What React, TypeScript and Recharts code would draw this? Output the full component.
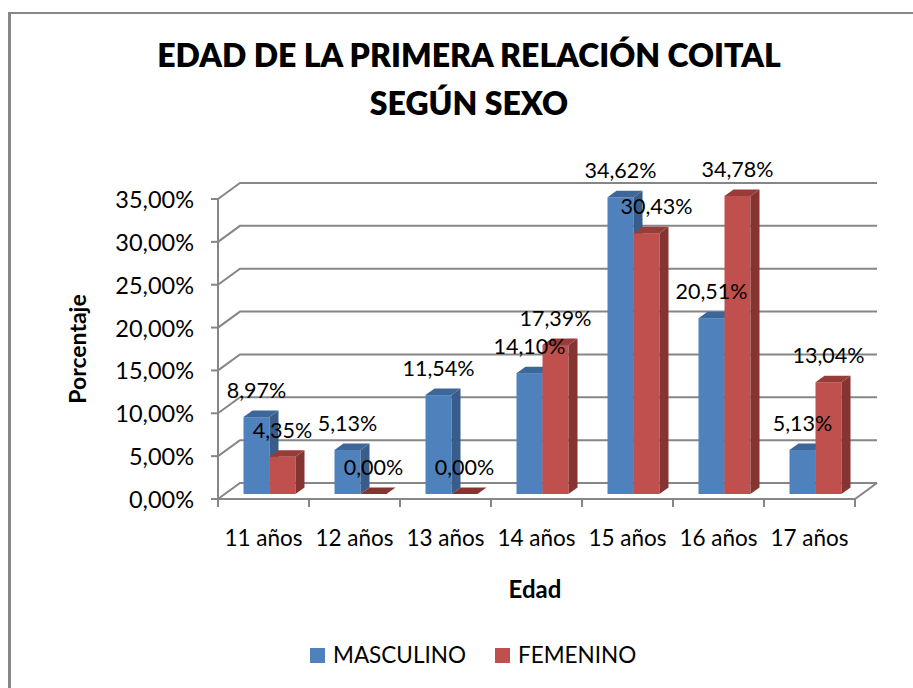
import React from 'react';
import { BarChart, Bar, XAxis, YAxis, CartesianGrid, LabelList, Legend } from 'recharts';

const categories = ['11 años', '12 años', '13 años', '14 años', '15 años', '16 años', '17 años'];
const masculino = [8.97, 5.13, 11.54, 14.1, 34.62, 20.51, 5.13];
const femenino = [4.35, 0, 0, 17.39, 30.43, 34.78, 13.04];
const yTicks = [0, 5, 10, 15, 20, 25, 30, 35];
const seriesNames = ['MASCULINO', 'FEMENINO'];
const titleLines = ['EDAD DE LA PRIMERA RELACIÓN COITAL', 'SEGÚN SEXO'];
const yTitle = 'Porcentaje';
const xTitle = 'Edad';

const data = categories.map((c, i) => ({ edad: c, masculino: masculino[i], femenino: femenino[i] }));

const FONT = 'Lato, "Open Sans", sans-serif';
const GRID = '#868686';
const FRONT_DX = -5.5;
const FRONT_DY = 5;
const BACK_DX = 16.5;
const BACK_DY = -11;
const BAR_DX = 9;
const BAR_DY = 6.5;

const BLUE = { front: '#4F81BD', top: '#3D6799', side: '#385D8A' };
const RED = { front: '#C0504D', top: '#983C3A', side: '#853432' };

const fmt = (v: number) => v.toFixed(2).replace('.', ',') + '%';

const make3DBar = (c: { front: string; top: string; side: string }) => (p: any) => {
  const { x, y, width: w } = p;
  if (x == null || y == null || w == null) return <g />;
  const h = Math.max(0, p.height || 0);
  return (
    <g>
      {h > 0 && <rect x={x} y={y} width={w} height={h} fill={c.front} />}
      {h > 0 && (
        <polygon
          points={`${x + w},${y} ${x + w + BAR_DX},${y - BAR_DY} ${x + w + BAR_DX},${y + h - BAR_DY} ${x + w},${y + h}`}
          fill={c.side}
        />
      )}
      <polygon
        points={`${x},${y} ${x + BAR_DX},${y - BAR_DY} ${x + w + BAR_DX},${y - BAR_DY} ${x + w},${y}`}
        fill={h > 0 ? c.top : c.side}
      />
    </g>
  );
};

const renderGridLine = (p: any) => {
  const { x1, x2, y1 } = p;
  const fy = y1 + FRONT_DY;
  const by = y1 + BACK_DY;
  const fx = x1 + FRONT_DX;
  const bx = x1 + BACK_DX;
  const bxr = x2 + BACK_DX;
  const floorY = p.y != null && p.height != null ? p.y + p.height : null;
  const isFloor = floorY != null ? Math.abs(y1 - floorY) < 0.5 : p.index === 0;
  return (
    <g key={p.key}>
      <polyline points={`${fx},${fy} ${bx},${by} ${bxr},${by}`} fill="none" stroke={GRID} strokeWidth={2} />
      {isFloor && (
        <>
          <polyline
            points={`${fx},${fy} ${x2 + FRONT_DX},${fy} ${bxr},${by}`}
            fill="none"
            stroke={GRID}
            strokeWidth={2}
          />
          <line x1={fx} y1={p.y + FRONT_DY} x2={fx} y2={fy} stroke={GRID} strokeWidth={2} />
        </>
      )}
    </g>
  );
};

const YTick = (p: any) => {
  const { x, y, payload } = p;
  const fx = x + FRONT_DX;
  const fy = y + FRONT_DY;
  return (
    <g>
      <line x1={fx - 7} y1={fy} x2={fx} y2={fy} stroke={GRID} strokeWidth={2} />
      <text x={fx - 24} y={fy + 9} textAnchor="end" fontFamily={FONT} fontSize={23.5} fill="#000">
        {fmt(payload.value)}
      </text>
    </g>
  );
};

const XTick = (p: any) => {
  const { x, y, payload, index } = p;
  const half = payload.offset != null ? payload.offset : 45.5;
  const cx = x + FRONT_DX;
  const fy = y + FRONT_DY;
  const lx = cx - half;
  const rx = cx + half;
  const last = (index ?? payload.index) === categories.length - 1;
  return (
    <g>
      <line x1={lx} y1={fy} x2={lx} y2={fy + 8} stroke={GRID} strokeWidth={2} />
      {last && <line x1={rx} y1={fy} x2={rx} y2={fy + 8} stroke={GRID} strokeWidth={2} />}
      <text x={cx} y={y + 52} textAnchor="middle" fontFamily={FONT} fontSize={22.5} fill="#000">
        {payload.value}
      </text>
    </g>
  );
};

const makeLabel = (series: 'm' | 'f') => (p: any) => {
  const { x, y, width, value, index } = p;
  if (x == null || y == null) return null;
  const nudge = series === 'f' && index === 4 ? 10 : 0;
  return (
    <text
      x={x + width / 2 + nudge}
      y={y - 19}
      textAnchor="middle"
      fontFamily={FONT}
      fontSize={21.5}
      fill="#000"
    >
      {fmt(Number(value))}
    </text>
  );
};

const LegendContent = (props: any) => {
  const raw = props.payload || [];
  const payload = seriesNames
    .map((n) => raw.find((e: any) => e.value === n))
    .filter(Boolean);
  const lefts = [310, 495];
  return (
    <div style={{ position: 'relative', width: 913, height: 30 }}>
      {payload.map((e: any, i: number) => (
        <div
          key={i}
          style={{
            position: 'absolute',
            left: lefts[i] ?? 310 + i * 185,
            top: 0,
            display: 'flex',
            alignItems: 'center',
            fontFamily: FONT,
            fontSize: 22.5,
            color: '#000',
            lineHeight: '30px',
            whiteSpace: 'nowrap',
          }}
        >
          <span style={{ display: 'inline-block', width: 15, height: 15, background: e.color, marginRight: 8 }} />
          <span>{e.value}</span>
        </div>
      ))}
    </div>
  );
};

export default function App() {
  return (
    <div
      style={{
        position: 'absolute',
        left: 0,
        top: 0,
        width: 913,
        height: 688,
        overflow: 'hidden',
        background: '#fff',
      }}
    >
      <div
        style={{
          position: 'absolute',
          left: 8,
          top: 12,
          width: 1000,
          height: 1000,
          borderLeft: '3px solid #878787',
          borderTop: '2px solid #878787',
        }}
      />
      <div
        style={{
          position: 'absolute',
          left: 0,
          top: 0,
          width: 913,
          textAlign: 'center',
          fontFamily: FONT,
          fontWeight: 800,
          fontSize: 32,
          color: '#000',
        }}
      >
        <div style={{ position: 'absolute', left: 0, width: 938, top: 35, lineHeight: '40px' }}>{titleLines[0]}</div>
        <div style={{ position: 'absolute', left: 0, width: 938, top: 83, lineHeight: '40px' }}>{titleLines[1]}</div>
      </div>
      <div style={{ position: 'absolute', left: 0, top: 0 }}>
        <BarChart
          width={913}
          height={688}
          data={data}
          margin={{ top: 194, right: 52.5, bottom: 134, left: 123.5 }}
          barCategoryGap={20}
          barGap={0}
        >
          <CartesianGrid vertical={false} horizontal={renderGridLine} />
          <XAxis
            dataKey="edad"
            height={60}
            tickSize={0}
            tickMargin={0}
            axisLine={false}
            tickLine={false}
            interval={0}
            tick={<XTick />}
            label={{
              content: () => (
                <text x={535} y={598} textAnchor="middle" fontFamily={FONT} fontWeight={700} fontSize={24} fill="#000">
                  {xTitle}
                </text>
              ),
            }}
          />
          <YAxis
            width={100}
            domain={[0, 35]}
            ticks={yTicks}
            tickSize={0}
            tickMargin={0}
            axisLine={false}
            tickLine={false}
            tick={<YTick />}
            interval={0}
            label={{
              content: () => (
                <text
                  x={86}
                  y={349}
                  textAnchor="middle"
                  transform="rotate(-90 86 349)"
                  fontFamily={FONT}
                  fontWeight={700}
                  fontSize={23}
                  fill="#000"
                >
                  {yTitle}
                </text>
              ),
            }}
          />
          <Legend
            layout="horizontal"
            verticalAlign="middle"
            align="center"
            wrapperStyle={{ left: 0, top: 640, width: 913, height: 30 }}
            content={<LegendContent />}
          />
          <Bar dataKey="masculino" name={seriesNames[0]} fill={BLUE.front} shape={make3DBar(BLUE)} isAnimationActive={false}>
            <LabelList dataKey="masculino" content={makeLabel('m')} />
          </Bar>
          <Bar dataKey="femenino" name={seriesNames[1]} fill={RED.front} shape={make3DBar(RED)} isAnimationActive={false}>
            <LabelList dataKey="femenino" content={makeLabel('f')} />
          </Bar>
        </BarChart>
      </div>
    </div>
  );
}
